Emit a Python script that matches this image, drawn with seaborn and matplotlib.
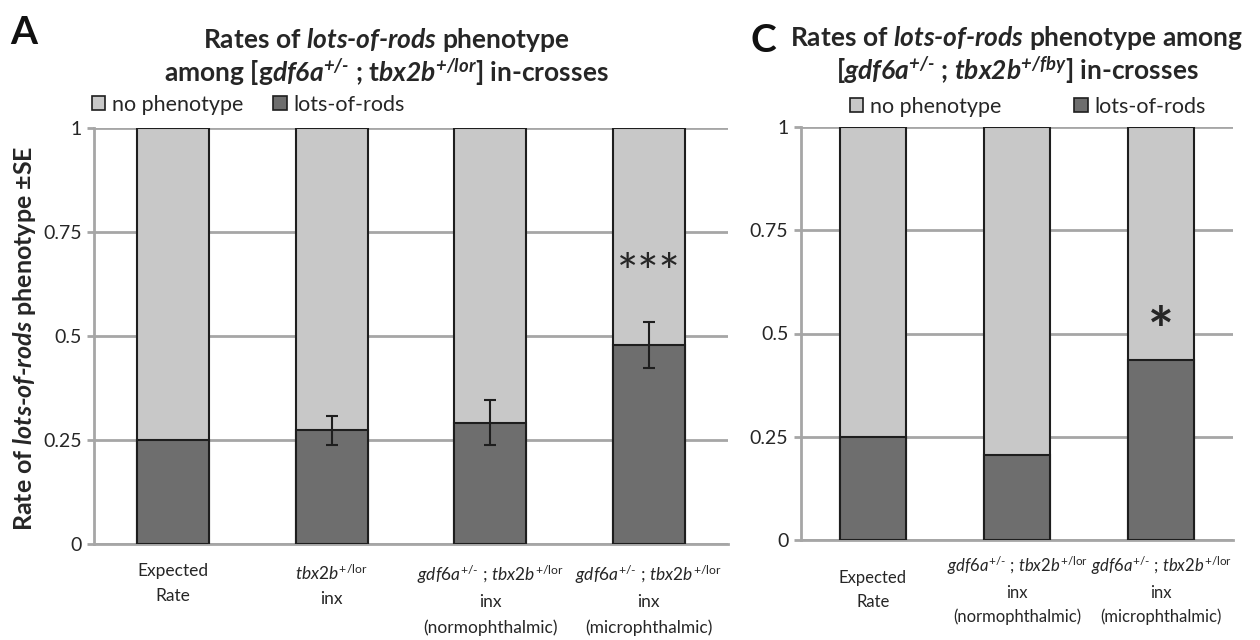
import matplotlib
matplotlib.use("Agg")
import matplotlib.pyplot as plt
from matplotlib.patches import Patch
import seaborn as sns
import numpy as np

H = "\u2010"  # typographic hyphen (not turned into a minus sign by mathtext)

# ---------------- data ----------------
cats_A = ["Expected\nRate",
          r"$\mathit{tbx2b}^{\mathrm{+/lor}}$" + "\ninx",
          r"$\mathit{gdf6a}^{+/" + H + r"}$ ; $\mathit{tbx2b}^{\mathrm{+/lor}}$" + "\ninx\n(normophthalmic)",
          r"$\mathit{gdf6a}^{+/" + H + r"}$ ; $\mathit{tbx2b}^{\mathrm{+/lor}}$" + "\ninx\n(microphthalmic)"]
lots_A = [0.25, 0.273, 0.292, 0.478]
noph_A = [0.75, 0.727, 0.708, 0.522]
se_A = [0.0, 0.035, 0.055, 0.055]
sig_A = ["", "", "", "***"]

cats_C = ["Expected\nRate",
          r"$\mathit{gdf6a}^{+/" + H + r"}$ ; $\mathit{tbx2b}^{\mathrm{+/lor}}$" + "\ninx\n(normophthalmic)",
          r"$\mathit{gdf6a}^{+/" + H + r"}$ ; $\mathit{tbx2b}^{\mathrm{+/lor}}$" + "\ninx\n(microphthalmic)"]
lots_C = [0.25, 0.206, 0.437]
noph_C = [0.75, 0.794, 0.563]
sig_C = ["", "", "*"]

yticks = [0, 0.25, 0.5, 0.75, 1]
ytick_labels = ["0", "0.25", "0.5", "0.75", "1"]
legend_labels = ["no phenotype", "lots-of-rods"]

# ---------------- style ----------------
sns.set_theme(style="white")
FONT = "Lato"
plt.rcParams["font.family"] = [FONT, "DejaVu Sans"]
plt.rcParams["mathtext.fontset"] = "custom"
plt.rcParams["mathtext.rm"] = FONT
plt.rcParams["mathtext.it"] = FONT + ":italic"
plt.rcParams["mathtext.bf"] = FONT + ":bold"
plt.rcParams["mathtext.bfit"] = FONT + ":italic:bold"

LIGHT = "#c8c8c8"
DARK = "#6e6e6e"
EDGE = "#1e1e1e"
GRID = "#a6a6a6"
TXT = "#262626"

fig = plt.figure(figsize=(12.6, 6.4), dpi=100)
axA = fig.add_axes([94 / 1260, 1 - 544 / 640, (728 - 94) / 1260, (544 - 128) / 640])
axC = fig.add_axes([801 / 1260, 1 - 540 / 640, (1233 - 801) / 1260, (540 - 127) / 640])


def draw(ax, cats, lots, noph, width):
    total = [a + b for a, b in zip(lots, noph)]
    sns.barplot(x=cats, y=total, ax=ax, color=LIGHT, saturation=1, width=width,
                edgecolor=EDGE, linewidth=1.5, zorder=3)
    sns.barplot(x=cats, y=lots, ax=ax, color=DARK, saturation=1, width=width,
                edgecolor=EDGE, linewidth=1.5, zorder=4)
    ax.set_ylim(0, 1)
    ax.set_xlim(-0.5, len(cats) - 0.5)
    ax.set_yticks(yticks)
    ax.set_yticklabels(ytick_labels, fontsize=14, color=TXT)
    ax.yaxis.grid(True, color=GRID, linewidth=2, zorder=0)
    ax.set_axisbelow(True)
    for s in ["top", "right"]:
        ax.spines[s].set_visible(False)
    for s in ["left", "bottom"]:
        ax.spines[s].set_color(GRID)
        ax.spines[s].set_linewidth(2)
    ax.tick_params(axis="y", which="major", length=5, width=2, color=GRID, pad=4, left=True)
    ax.set_xticks(range(len(cats)))
    ax.set_xlabel("")
    ax.set_ylabel("")


draw(axA, cats_A, lots_A, noph_A, 0.455)
draw(axC, cats_C, lots_C, noph_C, 0.464)

axA.set_xticklabels(cats_A, fontsize=12.5, color=TXT, linespacing=1.65, va="top")
axA.tick_params(axis="x", length=0, pad=14)
axC.set_xticklabels(cats_C, fontsize=12, color=TXT, linespacing=1.6, va="center")
axC.tick_params(axis="x", length=0, pad=36)

# error bars
xs = np.arange(len(cats_A))
mask = np.array(se_A) > 0
axA.errorbar(xs[mask], np.array(lots_A)[mask], yerr=np.array(se_A)[mask], fmt="none",
             ecolor=EDGE, elinewidth=1.5, capsize=4.2, capthick=1.5, zorder=6)

# significance stars
for i, s in enumerate(sig_A):
    if s:
        axA.text(i, 0.645, s, ha="center", va="center", fontsize=36, color=TXT, zorder=7)
for i, s in enumerate(sig_C):
    if s:
        axC.text(i, 0.50, s, ha="center", va="center", fontsize=44, fontweight="bold", color=TXT, zorder=7)

# legends
handles = [Patch(facecolor=LIGHT, edgecolor=EDGE, linewidth=1.2),
           Patch(facecolor=DARK, edgecolor=EDGE, linewidth=1.2)]
axA.legend(handles, legend_labels, loc="center left", bbox_to_anchor=(92 / 1260, 1 - 105 / 640),
           bbox_transform=fig.transFigure, ncol=2, frameon=False, fontsize=15.5,
           handlelength=0.62, handleheight=0.62, handletextpad=0.3, columnspacing=1.4,
           borderpad=0, borderaxespad=0, labelcolor=TXT)
axC.legend(handles, legend_labels, loc="center left", bbox_to_anchor=(850 / 1260, 1 - 107 / 640),
           bbox_transform=fig.transFigure, ncol=2, frameon=False, fontsize=15.5,
           handlelength=0.62, handleheight=0.62, handletextpad=0.3, columnspacing=3.4,
           borderpad=0, borderaxespad=0, labelcolor=TXT)

# titles
TFS = 19
fig.text(386 / 1260, 1 - 40 / 640,
         "Rates of $\\mathbfit{lots" + H + "of" + H + "rods}$ phenotype",
         ha="center", va="center", fontsize=TFS, fontweight="bold", color=TXT)
fig.text(386 / 1260, 1 - 72 / 640,
         "among [g$\\mathbfit{df6a}^{\\mathbfit{+/" + H + "}}$ ; t$\\mathbfit{bx2b}^{\\mathbfit{+/lor}}$] in-crosses",
         ha="center", va="center", fontsize=TFS, fontweight="bold", color=TXT)
fig.text(1017 / 1260, 1 - 38 / 640,
         "Rates of $\\mathbfit{lots" + H + "of" + H + "rods}$ phenotype among",
         ha="center", va="center", fontsize=TFS, fontweight="bold", color=TXT)
fig.text(1017 / 1260, 1 - 70 / 640,
         "[$\\mathbfit{gdf6a}^{\\mathbfit{+/" + H + "}}$ ; $\\mathbfit{tbx2b}^{\\mathbfit{+/fby}}$] in-crosses",
         ha="center", va="center", fontsize=TFS, fontweight="bold", color=TXT)

# panel letters
fig.text(10 / 1260, 1 - 32 / 640, "A", ha="left", va="center", fontsize=28, fontweight="bold", color="#111111")
fig.text(750 / 1260, 1 - 40 / 640, "C", ha="left", va="center", fontsize=28, fontweight="bold", color="#111111")

# y label
fig.text(25 / 1260, 1 - 338 / 640, "Rate of $\\mathbfit{lots" + H + "of" + H + "rods}$ phenotype \u00b1SE",
         rotation=90, ha="center", va="center", fontsize=18, fontweight="bold", color=TXT)

fig.savefig("out.png", dpi=100)
